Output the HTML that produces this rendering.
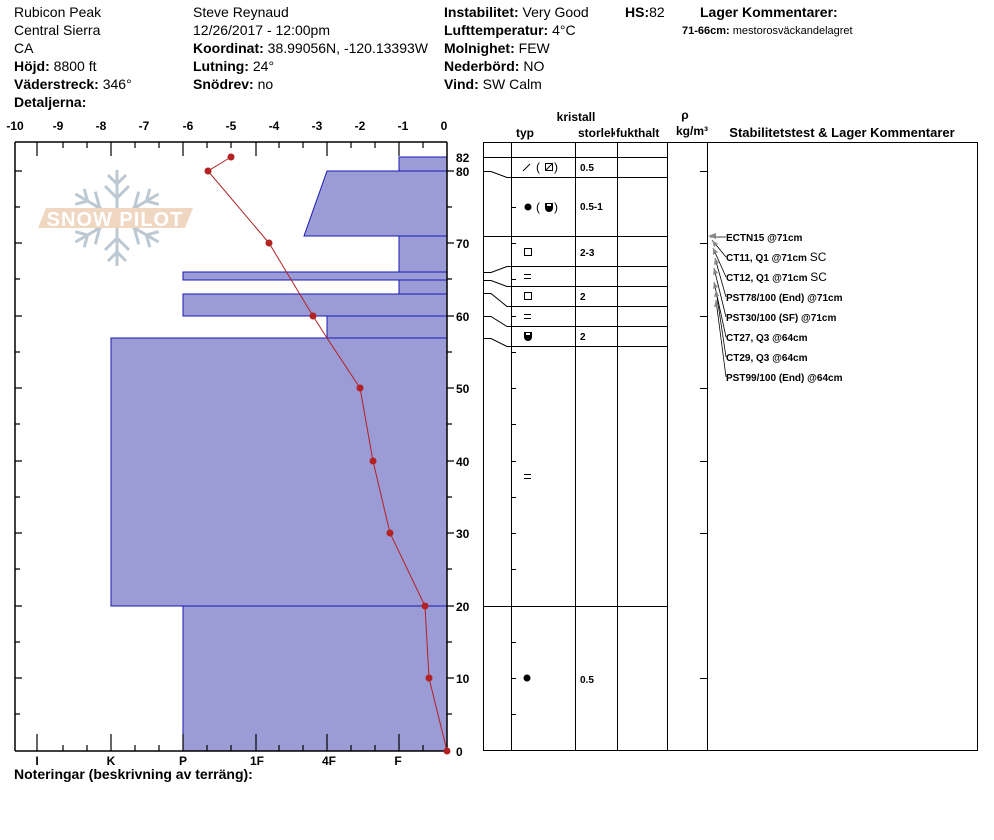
<!DOCTYPE html>
<html><head><meta charset="utf-8"><style>
html,body{margin:0;padding:0;background:#fff;}
svg{display:block;font-family:"Liberation Sans",Arial,sans-serif;}
.b{font-weight:bold}
</style></head><body>
<svg width="994" height="840" viewBox="0 0 994 840" xmlns="http://www.w3.org/2000/svg">
<g font-size="14" fill="#000">
<text x="14" y="17">Rubicon Peak</text>
<text x="14" y="35">Central Sierra</text>
<text x="14" y="53">CA</text>
<text x="14" y="71"><tspan class="b">Höjd:</tspan> 8800 ft</text>
<text x="14" y="89"><tspan class="b">Väderstreck:</tspan> 346°</text>
<text x="14" y="107" class="b">Detaljerna:</text>
<text x="193" y="17">Steve Reynaud</text>
<text x="193" y="35">12/26/2017 - 12:00pm</text>
<text x="193" y="53"><tspan class="b">Koordinat:</tspan> 38.99056N, -120.13393W</text>
<text x="193" y="71"><tspan class="b">Lutning:</tspan> 24°</text>
<text x="193" y="89"><tspan class="b">Snödrev:</tspan> no</text>
<text x="444" y="17"><tspan class="b">Instabilitet:</tspan> Very Good</text>
<text x="444" y="35"><tspan class="b">Lufttemperatur:</tspan> 4°C</text>
<text x="444" y="53"><tspan class="b">Molnighet:</tspan> FEW</text>
<text x="444" y="71"><tspan class="b">Nederbörd:</tspan> NO</text>
<text x="444" y="89"><tspan class="b">Vind:</tspan>  SW Calm</text>
<text x="625" y="17"><tspan class="b">HS:</tspan>82</text>
<text x="700" y="17" class="b">Lager Kommentarer:</text>
</g>
<text x="682" y="34" font-size="11"><tspan class="b">71-66cm:</tspan> mestorosväckandelagret</text>

<!-- logo -->
<g stroke="#bcc8d2" stroke-width="3" fill="none">
<g transform="translate(117,218)">
<g id="arm"><line x1="0" y1="0" x2="0" y2="-48"/><line x1="0" y1="-34" x2="-9" y2="-43"/><line x1="0" y1="-34" x2="9" y2="-43"/><line x1="0" y1="-20" x2="-12" y2="-32"/><line x1="0" y1="-20" x2="12" y2="-32"/></g>
<use href="#arm" transform="rotate(60)"/><use href="#arm" transform="rotate(120)"/><use href="#arm" transform="rotate(180)"/><use href="#arm" transform="rotate(240)"/><use href="#arm" transform="rotate(300)"/>
</g></g>
<polygon points="46,208 193,208 185,228 38,228" fill="#efd7c2"/>
<text x="115" y="226" font-size="20" fill="#fff" text-anchor="middle" font-weight="bold" letter-spacing="1">SNOW PILOT</text>

<!-- hardness -->
<g fill="#9b9bd6" stroke="#1a1ab4" stroke-width="1">
<rect x="399" y="157" width="48" height="14"/>
<polygon points="327,171 447,171 447,236 304,236"/>
<rect x="399" y="236" width="48" height="36"/>
<rect x="183" y="272" width="264" height="8"/>
<rect x="399" y="280" width="48" height="14"/>
<rect x="183" y="294" width="264" height="22"/>
<rect x="327" y="316" width="120" height="22"/>
<rect x="111" y="338" width="336" height="268"/>
<rect x="183" y="606" width="264" height="145"/>
</g>

<!-- axes -->
<g stroke="#000" stroke-width="1.5" fill="none">
<line x1="15" y1="142" x2="447" y2="142"/>
<line x1="15" y1="751" x2="447" y2="751"/>
<line x1="15" y1="142" x2="15" y2="751"/>
<line x1="447" y1="142" x2="447" y2="751"/>
</g>
<g stroke="#000" stroke-width="1.2">
<path d="M37,142v14M111,142v14M183,142v14M256,142v14M327,142v14M399,142v14M63,142v6M87,142v6M135,142v6M159,142v6M207,142v6M231,142v6M279,142v6M303,142v6M351,142v6M375,142v6M423,142v6"/>
<path d="M37,751v-17M111,751v-17M183,751v-17M256,751v-17M327,751v-17M399,751v-17M63,751v-6M87,751v-6M135,751v-6M159,751v-6M207,751v-6M231,751v-6M279,751v-6M303,751v-6M351,751v-6M375,751v-6M423,751v-6"/>
<path d="M15,171h7M15,243h7M15,316h7M15,388h7M15,461h7M15,533h7M15,606h7M15,678h7M15,207h5M15,279h5M15,352h5M15,424h5M15,497h5M15,569h5M15,642h5M15,714h5"/>
<path d="M447,171h7M447,243h7M447,316h7M447,388h7M447,461h7M447,533h7M447,606h7M447,678h7M447,207h5M447,279h5M447,352h5M447,424h5M447,497h5M447,569h5M447,642h5M447,714h5"/>
</g>
<g font-size="12" font-weight="bold" text-anchor="middle">
<text x="15" y="130">-10</text><text x="58" y="130">-9</text><text x="101" y="130">-8</text><text x="144" y="130">-7</text><text x="188" y="130">-6</text><text x="231" y="130">-5</text><text x="274" y="130">-4</text><text x="317" y="130">-3</text><text x="360" y="130">-2</text><text x="403" y="130">-1</text><text x="444" y="130">0</text>
<text x="37" y="765">I</text><text x="111" y="765">K</text><text x="183" y="765">P</text><text x="257" y="765">1F</text><text x="329" y="765">4F</text><text x="398" y="765">F</text>
</g>
<g font-size="12" font-weight="bold">
<text x="456" y="162">82</text><text x="456" y="176">80</text><text x="456" y="248">70</text><text x="456" y="321">60</text><text x="456" y="393">50</text><text x="456" y="466">40</text><text x="456" y="538">30</text><text x="456" y="611">20</text><text x="456" y="683">10</text><text x="456" y="756">0</text>
</g>
<text x="14" y="779" font-size="14" font-weight="bold">Noteringar (beskrivning av terräng):</text>

<!-- temperature -->
<polyline points="231,157 208,171 269,243 313,316 327,338 360,388 373,461 390,533 425,606 429,678 447,751" fill="none" stroke="#b22222" stroke-width="1"/>
<g fill="#b22222">
<circle cx="231" cy="157" r="3.5"/><circle cx="208" cy="171" r="3.5"/><circle cx="269" cy="243" r="3.5"/><circle cx="313" cy="316" r="3.5"/><circle cx="360" cy="388" r="3.5"/><circle cx="373" cy="461" r="3.5"/><circle cx="390" cy="533" r="3.5"/><circle cx="425" cy="606" r="3.5"/><circle cx="429" cy="678" r="3.5"/><circle cx="447" cy="751" r="3.5"/>
</g>

<!-- right table headers -->
<g font-size="12" font-weight="bold">
<text x="576" y="121" text-anchor="middle">kristall</text>
<text x="525" y="137" text-anchor="middle">typ</text>
<text x="578" y="137">storlek</text>
<rect x="615" y="125" width="50" height="15" fill="#fff"/>
<text x="616" y="137">fukthalt</text>
<text x="685" y="119" text-anchor="middle">ρ</text>
<text x="692" y="135" text-anchor="middle">kg/m³</text>
<text x="842" y="137" font-size="13" text-anchor="middle">Stabilitetstest &amp; Lager Kommentarer</text>
</g>
<g stroke="#000" stroke-width="1" fill="none">
<rect x="483.5" y="142.5" width="494" height="608"/>
<line x1="511.5" y1="142" x2="511.5" y2="751"/>
<line x1="575.5" y1="142" x2="575.5" y2="751"/>
<line x1="617.5" y1="142" x2="617.5" y2="751"/>
<line x1="667.5" y1="142" x2="667.5" y2="751"/>
<line x1="707.5" y1="142" x2="707.5" y2="751"/>
<path d="M483,157.5H667M511,177.5H667M511,236.5H667M511,266.5H667M511,286.5H667M511,306.5H667M511,326.5H667M511,346.5H667M483,606.5H667"/>
<path d="M483,171.5h8l16,6h4M483,236.5h28M483,272.5h8l16,-6h4M483,280.5h8l16,6h4M483,293.5h8l16,13h4M483,316.5h8l16,10h4M483,338.5h8l16,8h4"/>
<path d="M511,207.5h5M511,243.5h5M511,279.5h5M511,316.5h5M511,352.5h5M511,388.5h5M511,424.5h5M511,461.5h5M511,497.5h5M511,533.5h5M511,569.5h5M511,642.5h5M511,678.5h5M511,714.5h5"/>
<path d="M700,171.5h7M700,243.5h7M700,316.5h7M700,388.5h7M700,461.5h7M700,533.5h7M700,678.5h7"/>
</g>
<!-- crystal symbols -->
<g stroke="#000" stroke-width="1" fill="none">
<line x1="523" y1="171" x2="530" y2="164"/>
<rect x="545.5" y="163.5" width="7" height="7"/><line x1="546" y1="170" x2="552" y2="164"/>
<rect x="524.5" y="248.5" width="7" height="7"/>
<rect x="524.5" y="292.5" width="7" height="7"/>
<path d="M524,274.5h7M524,278.5h7M524,314.5h7M524,318.5h7M524,474.5h7M524,478.5h7"/>
</g>
<g fill="#000">
<circle cx="528" cy="207" r="3.5"/>
<circle cx="527" cy="678" r="3.5"/>
<path d="M545,203h8v5a4,4 0 0 1 -8,0z"/>
<path d="M524,332h8v5a4,4 0 0 1 -8,0z"/>
</g>
<rect x="526" y="333" width="4" height="2" fill="#fff"/>
<rect x="547" y="204" width="4" height="2" fill="#fff"/>
<g font-size="12">
<text x="536" y="171">(</text><text x="554" y="171">)</text>
<text x="536" y="211">(</text><text x="554" y="211">)</text>
</g>
<g font-size="10" font-weight="bold">
<text x="580" y="171">0.5</text>
<text x="580" y="210">0.5-1</text>
<text x="580" y="256">2-3</text>
<text x="580" y="300">2</text>
<text x="580" y="340">2</text>
<text x="580" y="683">0.5</text>
</g>
<!-- comments -->
<g stroke="#000" stroke-width="0.8" fill="none">
<path d="M726,237H710M726,257L712,240M726,277L713,248M726,297L715,258M726,317L714,268M726,337L714,282M726,357L716,290M726,377L716,300"/>
</g>
<g fill="#888">
<polygon points="708,236 716,233 716,239"/>
<polygon points="712,240 718,244 714,247"/>
<polygon points="713,248 718,252 713,255"/>
<polygon points="715,258 719,263 714,265"/>
<polygon points="714,268 718,273 713,275"/>
<polygon points="714,282 718,287 713,289"/>
<polygon points="716,290 719,296 714,297"/>
<polygon points="716,300 719,306 714,307"/>
</g>
<g font-size="10" font-weight="bold">
<text x="726" y="241">ECTN15 @71cm</text>
<text x="726" y="261">CT11, Q1 @71cm <tspan font-weight="normal" font-size="12">SC</tspan></text>
<text x="726" y="281">CT12, Q1 @71cm <tspan font-weight="normal" font-size="12">SC</tspan></text>
<text x="726" y="301">PST78/100 (End) @71cm</text>
<text x="726" y="321">PST30/100 (SF) @71cm</text>
<text x="726" y="341">CT27, Q3 @64cm</text>
<text x="726" y="361">CT29, Q3 @64cm</text>
<text x="726" y="381">PST99/100 (End) @64cm</text>
</g>
</svg>
</body></html>
